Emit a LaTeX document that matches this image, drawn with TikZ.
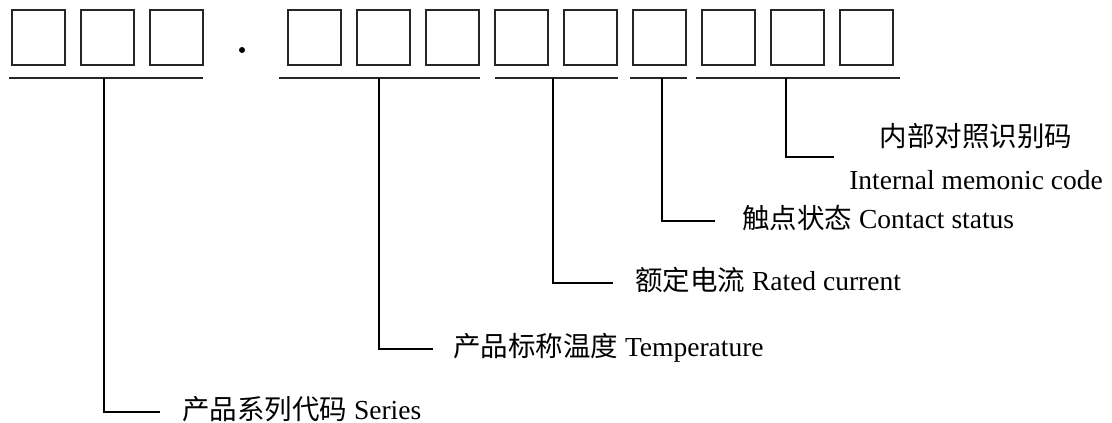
\documentclass[tikz,border=0pt]{standalone}
\usepackage{fontspec}
\setmainfont{Liberation Serif}
\newfontfamily\cjk{Noto Sans CJK SC}
\usetikzlibrary{calc}

\begin{document}
\begin{tikzpicture}[x=1pt,y=-1pt,
  cell/.style={draw=black!85,line width=2pt,minimum width=53pt,minimum height=55pt,inner sep=0pt},
  bar/.style={black!85,line width=2pt},
  lead/.style={black,line width=1.5pt,shorten >=#1},
  lbl/.style={anchor=west,inner sep=0pt,text height=18pt,text depth=4pt,font=\fontsize{27.5}{30}\selectfont}]
\useasboundingbox (0,0) rectangle (1112,423);
% code cells
\foreach \k in {0,1,2,4,5,...,12}
 \node[cell] (c\k) at (38.5+69*\k,37.5) {};
\node[circle,fill,inner sep=0pt,minimum size=6pt] (dot) at (242,50) {};
% underlines and where the leads start
\foreach \a/\b/\v/\n in {9/203/104/1,279/480/379/2,495/618/553/3,630/687/662/4,696/900/786/5} {
 \draw[bar] (\a,78) -- (\b,78);
 \coordinate (v\n) at (\v,78);
}
% labels
\node[lbl] (series) at (182,412) {{\cjk 产品系列代码} Series};
\node[lbl] (temp) at (453,349) {{\cjk 产品标称温度} Temperature};
\node[lbl] (rated) at (635,283) {{\cjk 额定电流} Rated current};
\node[lbl] (contact) at (742,221) {{\cjk 触点状态} Contact status};
\node[inner sep=0pt,align=center,font=\fontsize{27.5}{43}\selectfont] (mem) at (976,157)
 {{\cjk 内部对照识别码}\\Internal memonic code};
% leads
\draw[lead=22pt] (v1) |- (series.west);
\draw[lead=20pt] (v2) |- (temp.west);
\draw[lead=22pt] (v3) |- (rated.west);
\draw[lead=27pt] (v4) |- (contact.west);
\draw[lead=15pt] (v5) |- (mem.west);
\end{tikzpicture}
\end{document}
